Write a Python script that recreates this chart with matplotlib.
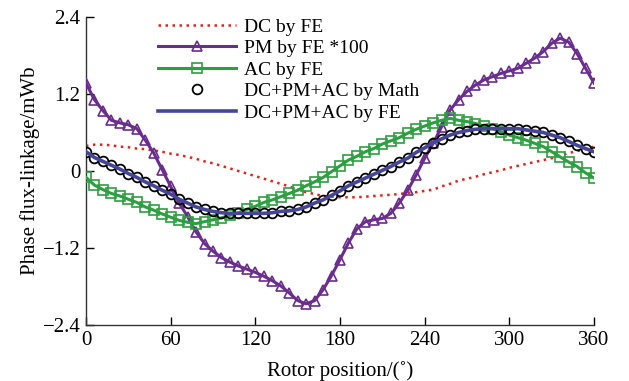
import numpy as np
import matplotlib
matplotlib.use("Agg")
import matplotlib.pyplot as plt

angle = list(range(0, 361, 6))

dc_fe = [0.39, 0.41, 0.41, 0.40, 0.38, 0.37, 0.35, 0.34, 0.32, 0.30,
         0.27, 0.25, 0.22, 0.19, 0.15, 0.12, 0.08, 0.04, 0.00, -0.04,
         -0.08, -0.12, -0.16, -0.20, -0.24, -0.29, -0.33, -0.36, -0.39, -0.40,
         -0.41, -0.41, -0.41, -0.40, -0.39, -0.38, -0.37, -0.36, -0.34, -0.33,
         -0.31, -0.29, -0.24, -0.20, -0.15, -0.12, -0.09, -0.05, -0.02, 0.01,
         0.05, 0.08, 0.11, 0.14, 0.17, 0.20, 0.24, 0.28, 0.31, 0.34, 0.38]

pm_fe_x100 = [1.37, 1.11, 0.94, 0.79, 0.75, 0.72, 0.66, 0.48, 0.28, 0.02,
              -0.24, -0.50, -0.71, -0.95, -1.13, -1.25, -1.35, -1.42, -1.48, -1.53,
              -1.58, -1.64, -1.71, -1.79, -1.90, -2.02, -2.07, -2.02, -1.85, -1.63,
              -1.38, -1.12, -0.90, -0.79, -0.76, -0.74, -0.66, -0.50, -0.30, -0.06,
              0.20, 0.43, 0.69, 0.95, 1.11, 1.24, 1.34, 1.42, 1.47, 1.52,
              1.56, 1.60, 1.68, 1.76, 1.86, 1.99, 2.07, 2.01, 1.83, 1.60, 1.37]

ac_fe = [-0.10, -0.22, -0.29, -0.35, -0.39, -0.44, -0.49, -0.56, -0.61, -0.67,
         -0.72, -0.77, -0.80, -0.82, -0.79, -0.76, -0.73, -0.69, -0.65, -0.60,
         -0.55, -0.49, -0.45, -0.40, -0.35, -0.30, -0.23, -0.17, -0.10, -0.01,
         0.08, 0.17, 0.23, 0.30, 0.35, 0.42, 0.47, 0.52, 0.59, 0.65,
         0.70, 0.75, 0.79, 0.82, 0.79, 0.77, 0.74, 0.70, 0.66, 0.61,
         0.56, 0.52, 0.48, 0.43, 0.38, 0.30, 0.22, 0.14, 0.07, -0.03, -0.11]

sum_math = [0.30, 0.21, 0.15, 0.09, 0.03, -0.04, -0.10, -0.17, -0.23, -0.30,
            -0.36, -0.44, -0.50, -0.56, -0.60, -0.63, -0.65, -0.66, -0.66, -0.66,
            -0.66, -0.66, -0.65, -0.63, -0.62, -0.60, -0.56, -0.50, -0.45, -0.38,
            -0.31, -0.23, -0.17, -0.11, -0.05, 0.01, 0.07, 0.14, 0.20, 0.29,
            0.36, 0.44, 0.50, 0.56, 0.60, 0.63, 0.65, 0.66, 0.66, 0.66,
            0.66, 0.66, 0.64, 0.62, 0.60, 0.56, 0.52, 0.46, 0.40, 0.35, 0.30]

sum_fe = list(sum_math)

xticks = [0, 60, 120, 180, 240, 300, 360]
yticks = [-2.4, -1.2, 0, 1.2, 2.4]
ytick_labels = ["\u22122.4", "\u22121.2", "0", "1.2", "2.4"]

plt.rcParams['font.family'] = ['Liberation Serif', 'DejaVu Serif']

fig = plt.figure(figsize=(6.29, 3.81), dpi=100)
ax = fig.add_axes([0.1367, 0.147, 0.8077, 0.8084])

ax.plot(angle, dc_fe, color='#e8201c', linestyle=(0, (1, 1.8)), linewidth=1.8,
        label='DC by FE', zorder=2)
ax.plot(angle, pm_fe_x100, color='#6a2c8e', linewidth=2.2, marker='^',
        markersize=6.5, markerfacecolor='none', markeredgewidth=1.2,
        label='PM by FE *100', zorder=3)
ax.plot(angle, ac_fe, color='#2ca040', linewidth=2.2, marker='s',
        markersize=6.5, markerfacecolor='none', markeredgewidth=1.2,
        label='AC by FE', zorder=3)
ax.plot(angle, sum_math, linestyle='none', marker='o', markersize=7,
        markerfacecolor='none', markeredgecolor='black', markeredgewidth=1.3,
        label='DC+PM+AC by Math', zorder=4)
ax.plot(angle, sum_fe, color='#45459a', linewidth=2.6,
        label='DC+PM+AC by FE', zorder=5)

ax.set_xlim(0, 360)
ax.set_ylim(-2.4, 2.4)
ax.set_xticks(xticks)
ax.set_yticks(yticks)
ax.set_yticklabels(ytick_labels)
ax.tick_params(direction='in', length=6, width=1, labelsize=15, pad=4)
for s in ['top', 'right']:
    ax.spines[s].set_visible(False)
for s in ['left', 'bottom']:
    ax.spines[s].set_linewidth(1.0)
    ax.spines[s].set_color('#333333')

ax.set_xlabel('Rotor position/(\u02da)', fontsize=15, labelpad=8)
ax.set_ylabel('Phase flux-linkage/mWb', fontsize=15, labelpad=2)

leg = ax.legend(loc='upper left', bbox_to_anchor=(158 / 629, 1 - 18 / 381),
                bbox_transform=fig.transFigure, frameon=False, fontsize=14,
                handlelength=4.0, handletextpad=0.4, labelspacing=0.2,
                borderpad=0, borderaxespad=0)

fig.savefig('out.png', dpi=100)
